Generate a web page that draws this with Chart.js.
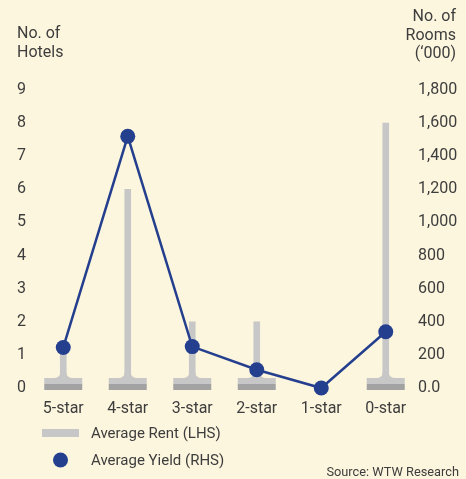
<!DOCTYPE html>
<html>
<head>
<meta charset="utf-8">
<script src="https://cdn.jsdelivr.net/npm/chart.js"></script>
<style>
    html, body { margin: 0; padding: 0; background: #fdf6de; }
    canvas { display: block; }
</style>
</head>
<body>
<canvas id="hotelChart" width="466" height="479"></canvas>
<script>
    const categories = ['5-star', '4-star', '3-star', '2-star', '1-star', '0-star'];
    const hotelCounts = [1, 6, 2, 2, 0, 8];
    const roomCounts = [245, 1520, 250, 110, 0, 340];
    const leftTickLabels = ['0', '1', '2', '3', '4', '5', '6', '7', '8', '9'];
    const rightTickLabels = ['0.0', '200', '400', '600', '800', '1,000', '1,200', '1,400', '1,600', '1,800'];
    const leftTitle = ['No. of', 'Hotels'];
    const rightTitle = ['No. of', 'Rooms', '(\u2018000)'];
    const seriesNames = ['Average Rent (LHS)', 'Average Yield (RHS)'];
    const sourceNote = 'Source: WTW Research';

    const FONT_FAMILY = "Roboto, 'Liberation Sans', sans-serif";
    const TEXT = '#3d3d3d';
    const GREY = '#c7c7c7';
    const DARK_GREY = '#a2a2a2';
    const BLUE = '#253f8f';

    Chart.defaults.font.family = FONT_FAMILY;
    Chart.defaults.font.size = 16;
    Chart.defaults.color = TEXT;

    // stand at the foot of each bar: flared neck, light slab, dark slab
    const pedestals = {
        id: 'pedestals',
        afterDatasetDraw(chart, args) {
            if (args.index !== 0) return;
            const ctx = chart.ctx;
            const base = chart.scales.y.getPixelForValue(0);
            args.meta.data.forEach((bar, i) => {
                if (!hotelCounts[i]) return;
                const x = bar.x;
                ctx.save();
                ctx.fillStyle = GREY;
                ctx.beginPath();
                ctx.moveTo(x - 3, base - 16);
                ctx.quadraticCurveTo(x - 3, base - 10, x - 10, base - 10);
                ctx.lineTo(x + 10, base - 10);
                ctx.quadraticCurveTo(x + 3, base - 10, x + 3, base - 16);
                ctx.closePath();
                ctx.fill();
                ctx.fillRect(x - 19, base - 10, 38, 6);
                ctx.fillStyle = DARK_GREY;
                ctx.fillRect(x - 19, base - 4, 38, 6);
                ctx.restore();
            });
        }
    };

    // axis headings, legend and source line
    const captions = {
        id: 'captions',
        afterDraw(chart) {
            const ctx = chart.ctx;
            const ds = chart.data.datasets;
            ctx.save();
            ctx.font = '16px ' + FONT_FAMILY;
            ctx.fillStyle = TEXT;
            ctx.textBaseline = 'middle';
            ctx.textAlign = 'left';
            leftTitle.forEach((t, i) => ctx.fillText(t, 17, 34 + i * 18.5));
            ctx.textAlign = 'right';
            rightTitle.forEach((t, i) => ctx.fillText(t, 456, 17 + i * 18.5));

            ctx.fillStyle = ds[0].backgroundColor;
            ctx.fillRect(42, 429, 37, 8);
            ctx.fillStyle = ds[1].pointBackgroundColor;
            ctx.beginPath();
            ctx.arc(60.5, 460, 7.5, 0, Math.PI * 2);
            ctx.fill();

            ctx.fillStyle = TEXT;
            ctx.textAlign = 'left';
            ctx.font = '15px ' + FONT_FAMILY;
            ctx.fillText(ds[0].label, 91, 434);
            ctx.fillText(ds[1].label, 91, 461);

            ctx.font = '12.8px ' + FONT_FAMILY;
            ctx.textAlign = 'right';
            ctx.fillText(sourceNote, 459, 473);
            ctx.restore();
        }
    };

    new Chart(document.getElementById('hotelChart'), {
        data: {
            labels: categories,
            datasets: [{
                type: 'bar',
                label: seriesNames[0],
                data: hotelCounts,
                yAxisID: 'y',
                backgroundColor: GREY,
                barThickness: 6,
                order: 2
            }, {
                type: 'line',
                label: seriesNames[1],
                data: roomCounts,
                yAxisID: 'y2',
                borderColor: BLUE,
                borderWidth: 2.5,
                pointBackgroundColor: BLUE,
                pointBorderWidth: 0,
                pointRadius: 7.5,
                tension: 0,
                clip: false,
                order: 1
            }]
        },
        options: {
            responsive: false,
            animation: false,
            layout: { padding: { top: 90, left: 17, right: 8, bottom: 61 } },
            scales: {
                x: {
                    grid: { display: false },
                    border: { display: false },
                    ticks: { padding: 3, maxRotation: 0 },
                    afterFit(scale) { scale.height = 30; }
                },
                y: {
                    position: 'left',
                    min: 0,
                    max: 9,
                    grid: { display: false, drawTicks: false },
                    border: { display: false },
                    ticks: {
                        stepSize: 1,
                        padding: 0,
                        crossAlign: 'far',
                        callback: (v, i) => leftTickLabels[i]
                    },
                    afterFit(scale) { scale.width = 14; }
                },
                y2: {
                    position: 'right',
                    min: 0,
                    max: 1800,
                    grid: { display: false, drawTicks: false },
                    border: { display: false },
                    ticks: {
                        stepSize: 200,
                        padding: 0,
                        callback: (v, i) => rightTickLabels[i]
                    },
                    afterFit(scale) { scale.width = 40; }
                }
            },
            plugins: {
                legend: { display: false },
                tooltip: { enabled: false }
            }
        },
        plugins: [pedestals, captions]
    });
</script>
</body>
</html>
